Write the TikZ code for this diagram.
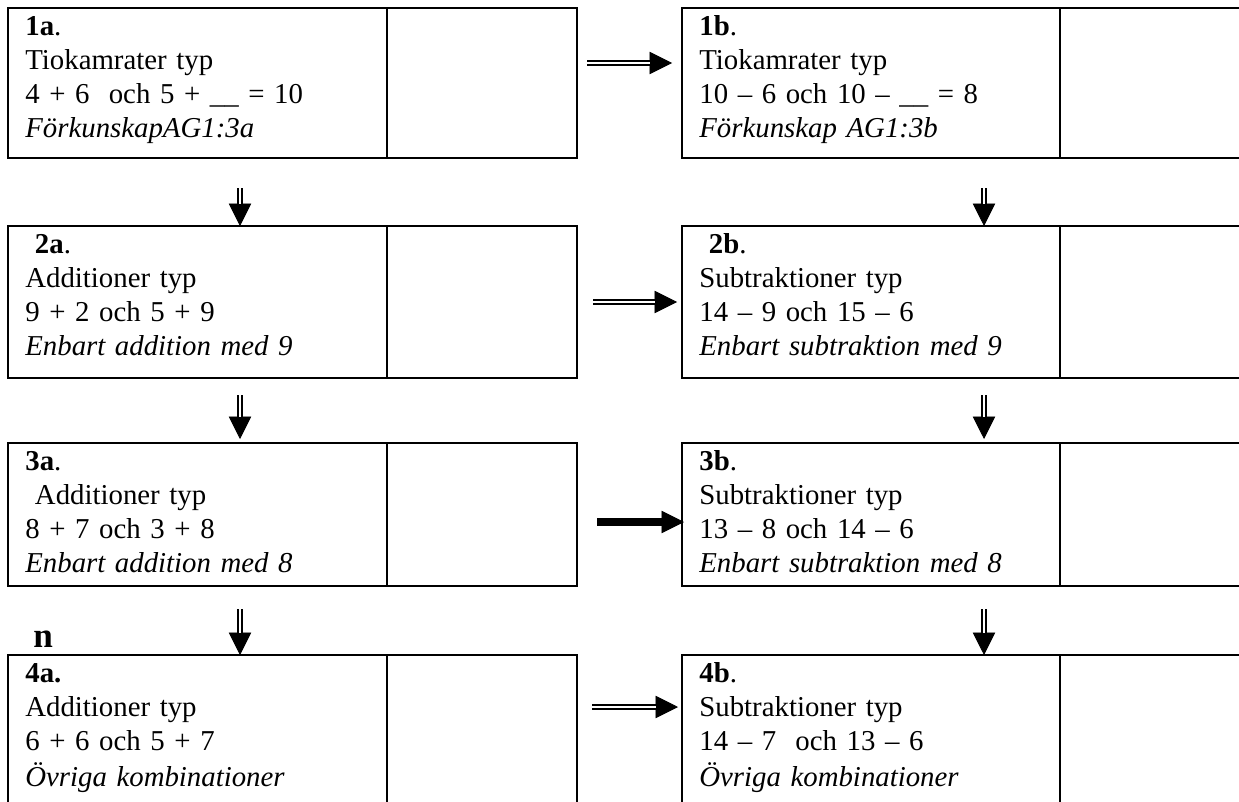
\documentclass[tikz,border=0pt]{standalone}
\usepackage{fontspec}
\setmainfont{Liberation Serif}
\usepackage{tikz}
\usetikzlibrary{arrows.meta, calc, positioning}

\tikzset{
  cell/.style={draw, line width=1.4pt, rectangle, inner sep=0pt, outer sep=0pt, minimum height=3cm},
  celltext/.style={inner sep=0pt, align=left, text width=7.2cm, font=\fontsize{16.4}{19.4}\selectfont},
  shaft/.style={draw, line width=1.1pt, double=white, double distance=1.6pt},
  barshaft/.style={draw, line width=4.4pt},
  head/.style={-{Triangle[length=0.45cm,width=0.45cm]}, line width=0.4pt},
}
% pil: skaft + spets
\newcommand{\dblarrow}[3][shaft]{%
  \draw[head] ($(#3)!0.6cm!(#2)$) -- (#3);
  \draw[#1, shorten >=0.44cm] (#2) -- (#3);
}
\newcommand{\cellrows}[4]{#1\strut\\#2\strut\\#3\strut\\\textit{#4}\strut}

\begin{document}
\begin{tikzpicture}[x=0.02cm, y=-0.02cm]
    \clip (0,0) rectangle (1239,801);

    % vänster kolumn (addition)
    \node[cell, minimum width=7.58cm, anchor=north west] (b1a) at (8,8) {};
    \node[cell, minimum width=7.58cm, minimum height=3.04cm, anchor=north west] (b2a) at (8,226) {};
    \node[cell, minimum width=7.58cm, minimum height=2.86cm, anchor=north west] (b3a) at (8,443) {};
    \node[cell, minimum width=7.58cm, anchor=north west] (b4a) at (8,655) {};
    \node[cell, minimum width=3.8cm, right=0pt of b1a] (e1a) {};
    \node[cell, minimum width=3.8cm, minimum height=3.04cm, right=0pt of b2a] (e2a) {};
    \node[cell, minimum width=3.8cm, minimum height=2.86cm, right=0pt of b3a] (e3a) {};
    \node[cell, minimum width=3.8cm, right=0pt of b4a] (e4a) {};

    \node[celltext, below right=0.06cm and 0.34cm of b1a.north west] (t1a)
        {\cellrows{\textbf{1a}.}{Tiokamrater typ}{4 + 6\ \ och 5 + \_\_ = 10}{FörkunskapAG1:3a}};
    \node[celltext, below right=0.06cm and 0.34cm of b2a.north west] (t2a)
        {\cellrows{\ \textbf{2a}.}{Additioner typ}{9 + 2 och 5 + 9}{Enbart addition med 9}};
    \node[celltext, below right=0.06cm and 0.34cm of b3a.north west] (t3a)
        {\cellrows{\textbf{3a}.}{\ Additioner typ}{8 + 7 och 3 + 8}{Enbart addition med 8}};
    \node[celltext, below right=0.06cm and 0.34cm of b4a.north west] (t4a)
        {\cellrows{\textbf{4a.}}{Additioner typ}{6 + 6 och 5 + 7}{Övriga kombinationer}};

    % höger kolumn (subtraktion)
    \node[cell, minimum width=7.56cm, anchor=north west] (b1b) at (682,8) {};
    \node[cell, minimum width=7.56cm, minimum height=3.04cm, anchor=north west] (b2b) at (682,226) {};
    \node[cell, minimum width=7.56cm, minimum height=2.86cm, anchor=north west] (b3b) at (682,443) {};
    \node[cell, minimum width=7.56cm, anchor=north west] (b4b) at (682,655) {};
    \node[cell, minimum width=4cm, right=0pt of b1b] (e1b) {};
    \node[cell, minimum width=4cm, minimum height=3.04cm, right=0pt of b2b] (e2b) {};
    \node[cell, minimum width=4cm, minimum height=2.86cm, right=0pt of b3b] (e3b) {};
    \node[cell, minimum width=4cm, right=0pt of b4b] (e4b) {};

    \node[celltext, below right=0.06cm and 0.34cm of b1b.north west] (t1b)
        {\cellrows{\textbf{1b}.}{Tiokamrater typ}{10 – 6 och 10 – \_\_ = 8}{Förkunskap AG1:3b}};
    \node[celltext, below right=0.06cm and 0.34cm of b2b.north west] (t2b)
        {\cellrows{\ \textbf{2b}.}{Subtraktioner typ}{14 – 9 och 15 – 6}{Enbart subtraktion med 9}};
    \node[celltext, below right=0.06cm and 0.34cm of b3b.north west] (t3b)
        {\cellrows{\textbf{3b}.}{Subtraktioner typ}{13 – 8 och 14 – 6}{Enbart subtraktion med 8}};
    \node[celltext, below right=0.06cm and 0.34cm of b4b.north west] (t4b)
        {\cellrows{\textbf{4b}.}{Subtraktioner typ}{14 – 7\ \ och 13 – 6}{Övriga kombinationer}};

    \node[font=\fontsize{20}{24}\selectfont\bfseries, anchor=base west, inner sep=0pt] (nlbl) at (33,647) {n};

    % pilar nedåt
    \coordinate (v1a) at (240,188);
    \coordinate (v2a) at (240,395);
    \coordinate (v3a) at (240,609);
    \coordinate (v1b) at (984,188);
    \coordinate (v2b) at (984,395);
    \coordinate (v3b) at (984,609);
    \dblarrow{v1a}{$(b2a.north west)+(232,0)$}
    \dblarrow{v2a}{$(b3a.north west)+(232,-4)$}
    \dblarrow{v3a}{$(b4a.north west)+(232,0)$}
    \dblarrow{v1b}{$(b2b.north west)+(302,0)$}
    \dblarrow{v2b}{$(b3b.north west)+(302,-4)$}
    \dblarrow{v3b}{$(b4b.north west)+(302,0)$}

    % pilar åt höger
    \coordinate (h1s) at (587,63);  \coordinate (h1e) at (672,63);
    \coordinate (h2s) at (593,302); \coordinate (h2e) at (677,302);
    \coordinate (h3s) at (597,522); \coordinate (h3e) at (684,522);
    \coordinate (h4s) at (592,707); \coordinate (h4e) at (678,707);
    \dblarrow{h1s}{h1e}
    \dblarrow{h2s}{h2e}
    \dblarrow[barshaft]{h3s}{h3e}
    \dblarrow{h4s}{h4e}
\end{tikzpicture}
\end{document}
